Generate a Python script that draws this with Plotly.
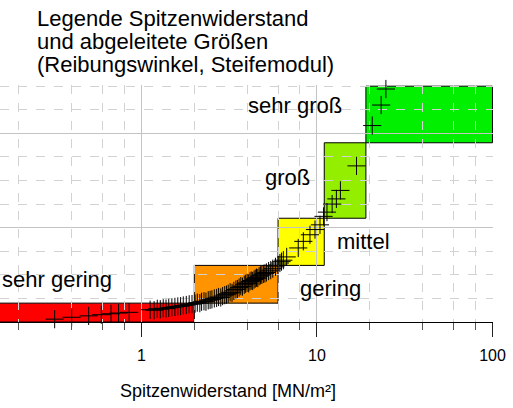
import numpy as np
import plotly.graph_objects as go

# Sounding results: cone resistance [MN/m²] and derived value
qc = [0.32, 0.40, 0.50, 0.59, 0.67, 0.74, 0.85, 1.12,
      1.18, 1.23, 1.28, 1.33, 1.38, 1.43, 1.49, 1.55, 1.61, 1.67, 1.73, 1.80, 1.87, 1.94,
      2.02, 2.08, 2.15, 2.20, 2.27, 2.33, 2.40, 2.46, 2.52, 2.60, 2.68, 2.75, 2.83, 2.90,
      2.98, 3.05, 3.12, 3.20, 3.28, 3.36, 3.45, 3.52, 3.60, 3.68, 3.76, 3.85, 3.92, 4.00,
      4.08, 4.15, 4.22, 4.30, 4.38, 4.45, 4.52, 4.60, 4.68, 4.76, 4.85, 4.95, 5.05, 5.15,
      5.30, 5.45, 5.60, 5.80,
      6.00, 6.15, 6.28, 6.43, 6.72, 7.82, 8.36, 9.12, 9.74, 10.4, 10.9,
      11.4, 12.2, 12.9, 13.6, 16.8,
      20.65, 23.2, 24.7]
val = [0.6, 1.0, 1.3, 1.55, 1.75, 1.9, 2.05, 2.6,
       2.5, 2.8, 2.7, 2.9, 2.85, 3.0, 3.1, 3.2, 3.3, 3.35, 3.5, 3.6, 3.75, 3.8,
       3.9, 4.1, 4.0, 4.3, 4.4, 4.3, 4.6, 4.7, 4.8, 5.0, 5.1, 5.3, 5.2, 5.5,
       5.7, 5.8, 6.0, 6.3, 6.2, 6.6, 6.9, 7.0, 7.3, 7.6, 7.5, 7.9, 8.1, 8.3,
       8.2, 8.6, 8.8, 8.7, 9.0, 9.2, 9.4, 9.3, 9.7, 9.9, 10.0, 10.2, 10.3, 10.5,
       10.8, 11.0, 11.3, 11.7,
       12.1, 12.5, 12.8, 13.1, 13.8, 15.7, 17.1, 18.5, 19.6, 20.6, 22.4,
       23.3, 25.0, 26.1, 27.9, 33.1,
       41.65, 46.0, 49.4]

# Classes: name, lower/upper cone resistance, lower/upper derived value, colour
class_names = ["sehr gering", "gering", "mittel", "groß", "sehr groß"]
class_qc_lo = [0.05, 2, 6, 11, 19]
class_qc_hi = [2, 6, 11, 19, 100]
class_val_lo = [0, 4, 12, 22, 38]
class_val_hi = [4, 12, 22, 38, 50]
class_colors = ["#FF0000", "#FF9400", "#FFFF00", "#94EE00", "#00F000"]
# label anchor positions (cone resistance, derived value)
label_qc = [0.157, 12.0, 18.4, 6.75, 7.5]
label_val = [9.0, 7.0, 17.0, 30.6, 46.0]
label_anchor = ["left", "center", "center", "center", "center"]

title_lines = ["Legende Spitzenwiderstand", "und abgeleitete Größen",
               "(Reibungswinkel, Steifemodul)"]
x_title = "Spitzenwiderstand [MN/m²]"
x_ticks = [1, 10, 100]
x_minor = [0.2, 0.4, 0.6, 0.8, 2, 4, 6, 8, 20, 40, 60, 80]
y_major = [0, 20, 40]
y_minor = [5, 10, 15, 25, 30, 35, 45, 50]

FONT = "Liberation Sans, Arial, Helvetica, sans-serif"
GRID = "#D2D2D2"

fig = go.Figure()

fig.add_trace(go.Scatter(
    x=qc, y=val, mode="markers",
    marker=dict(symbol="cross-thin", size=13,
                line=dict(color="black", width=1)),
    showlegend=False, hoverinfo="skip", cliponaxis=False))

for lo, hi, vlo, vhi, col in zip(class_qc_lo, class_qc_hi, class_val_lo,
                                 class_val_hi, class_colors):
    fig.add_shape(type="rect", xref="x", yref="y", x0=lo, x1=hi, y0=vlo, y1=vhi,
                  fillcolor=col, line=dict(color="black", width=1), layer="below")

for name, lx, ly, anc in zip(class_names, label_qc, label_val, label_anchor):
    fig.add_annotation(x=np.log10(lx), y=ly, xref="x", yref="y", text=name,
                       showarrow=False, xanchor=anc, yanchor="middle",
                       font=dict(size=22, color="black", family=FONT))

# three-line heading, one annotation per line
for i, line in enumerate(title_lines):
    fig.add_annotation(x=35 / 493, y=1 + (86 - (20 + 23 * i)) / 236,
                       xref="paper", yref="paper", text=line, showarrow=False,
                       xanchor="left", yanchor="middle",
                       font=dict(size=22, color="black", family=FONT))

fig.add_annotation(x=228 / 493, y=0, xref="paper", yref="paper", yshift=-69,
                   text=x_title, showarrow=False, xanchor="center",
                   yanchor="middle", font=dict(size=18, color="black", family=FONT))

fig.update_xaxes(
    type="log", range=[-0.8063, 2.003],
    tickmode="array", tickvals=x_ticks, ticktext=[str(v) for v in x_ticks],
    ticks="outside", ticklen=14, tickcolor="#222", tickwidth=1,
    ticklabelstandoff=5,
    tickfont=dict(size=16, color="black", family=FONT),
    showline=True, linecolor="black", linewidth=1,
    showgrid=True, gridcolor="#C4C4C4", gridwidth=1,
    zeroline=False,
    minor=dict(tickmode="array", tickvals=x_minor, ticks="outside", ticklen=7,
               tickcolor="#555", showgrid=True, gridcolor=GRID,
               griddash="dash", gridwidth=1),
)
fig.update_yaxes(
    range=[0, 50.25],
    tickmode="array", tickvals=y_major, showticklabels=False, ticks="",
    showgrid=True, gridcolor="#C4C4C4", gridwidth=1, zeroline=False,
    showline=False,
    minor=dict(tickmode="array", tickvals=y_minor, ticks="", showgrid=True,
               gridcolor=GRID, griddash="dash", gridwidth=1),
)

fig.update_layout(
    width=513, height=408,
    margin=dict(l=0, r=20, t=85, b=86),
    paper_bgcolor="white", plot_bgcolor="white",
    font=dict(family=FONT, color="black"),
    showlegend=False,
)

fig.write_html("out.html", config={"displayModeBar": False})
